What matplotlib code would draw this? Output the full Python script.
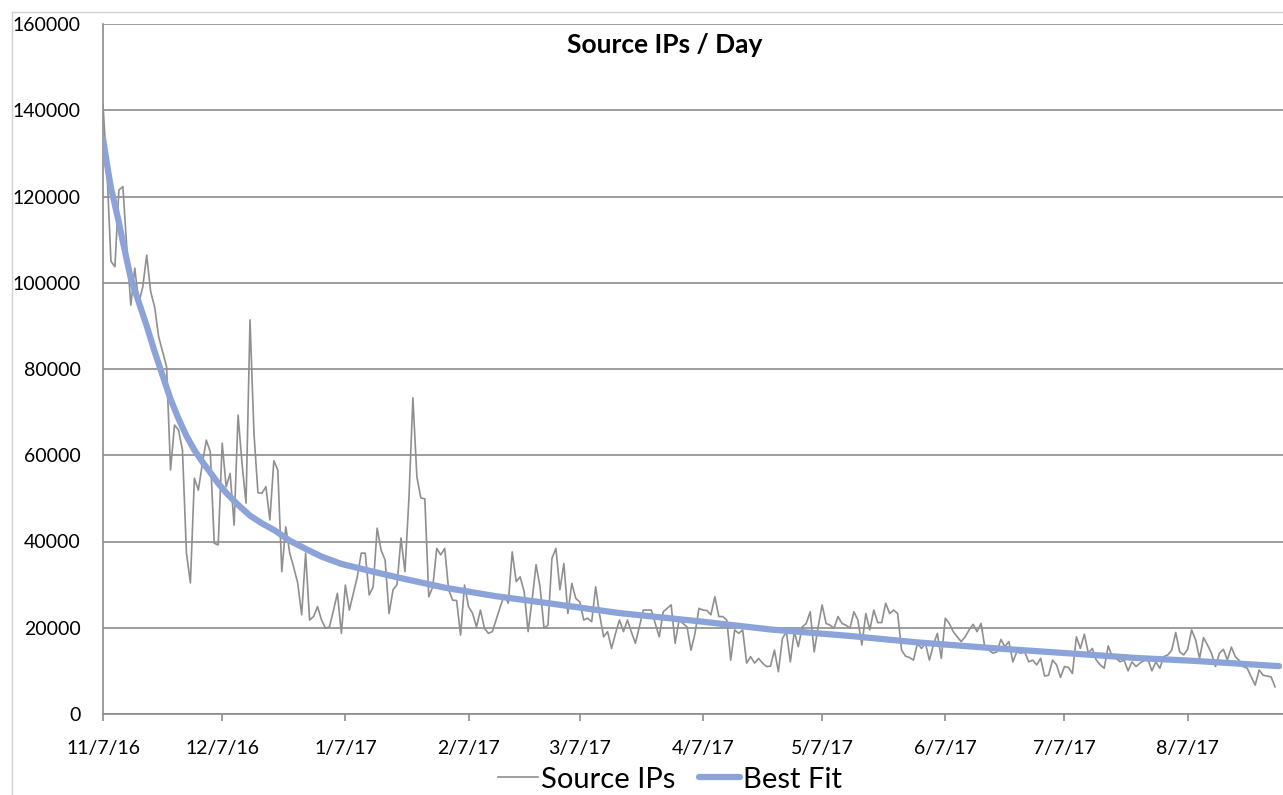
import pandas as pd
import matplotlib
matplotlib.use('Agg')
import matplotlib.pyplot as plt
from matplotlib.lines import Line2D

# daily source IP counts, starting 11/7/16
start_date = '2016-11-07'
source_ips = [
    141200, 126000, 105000, 103700, 121500, 122300, 108000, 94800, 103400, 95300,
    99000, 106400, 97900, 94400, 87500, 84000, 80500, 56600, 67000, 65900,
    61200, 37300, 30400, 54700, 51900, 58000, 63500, 60800, 39600, 39200,
    62800, 52700, 55800, 43800, 69300, 58000, 48900, 91400, 65000, 51300,
    51200, 52700, 45000, 58700, 56600, 33000, 43400, 37300, 34000, 30400,
    23000, 37300, 21800, 22600, 24900, 21800, 19900, 20200, 24000, 28000,
    18700, 29900, 24100, 28000, 31800, 37300, 37300, 27600, 29500, 43100,
    38000, 35700, 23300, 28800, 30000, 40800, 33000, 50000, 73300, 55000,
    50100, 49900, 27200, 29500, 38400, 36900, 38400, 28800, 26400, 26300,
    18300, 29900, 24900, 23400, 20200, 24100, 19900, 18700, 19100, 22000,
    24900, 27600, 25700, 37600, 30700, 31800, 28400, 19100, 26400, 34600,
    29500, 19900, 20600, 36100, 38400, 28800, 34900, 23300, 30300, 26800,
    26000, 21800, 22200, 21400, 29500, 23000, 17900, 19100, 15200, 18700,
    21800, 19100, 21800, 19000, 16400, 20200, 24100, 24100, 24100, 21000,
    17900, 23700, 24500, 25300, 16400, 21800, 21000, 20200, 14800, 18700,
    24500, 24100, 24000, 23000, 27200, 22600, 22600, 21800, 12500, 19500,
    18700, 19500, 11800, 13300, 11800, 12900, 11800, 11000, 11100, 14800,
    9800, 17500, 19100, 12100, 19100, 15600, 20200, 21000, 23700, 14400,
    20200, 25300, 21000, 20600, 19900, 22600, 21000, 20600, 19900, 23700,
    21800, 16000, 23300, 19500, 24100, 21200, 21200, 25700, 23300, 24100,
    23300, 14800, 13400, 13100, 12500, 16400, 15200, 16400, 12500, 16000,
    18700, 12900, 22200, 21000, 19100, 17900, 16800, 17900, 19500, 20800,
    19100, 21000, 15200, 14800, 14100, 14400, 17300, 15600, 16800, 12100,
    14400, 14100, 14400, 12100, 12500, 11400, 12900, 8800, 9000, 12500,
    11400, 8500, 11000, 10800, 9400, 17900, 15200, 18500, 14100, 15200,
    12500, 11400, 10600, 15800, 13300, 12900, 12100, 12500, 10000, 12100,
    11000, 11800, 12400, 12700, 10000, 12100, 10600, 13300, 13700, 14800,
    18900, 14400, 13700, 15000, 19500, 17200, 12900, 17700, 16000, 14100,
    11000, 14100, 15000, 12500, 15500, 13300, 12400, 11000, 10600, 8600,
    6700, 10200, 9000, 8800, 8600, 6300,
]

# best fit curve, sampled at day offsets from start
fit_days = [0, 1, 2, 3, 4, 5, 7, 9, 11, 13, 15, 17, 19, 21, 23, 25, 27, 29,
            31, 34, 37, 40, 43, 47, 51, 55, 60, 68, 75, 86, 99, 112, 130,
            150, 168, 188, 205, 225, 241, 260, 275, 296]
fit_values = [133500, 127500, 122000, 118000, 114000, 109500, 101000, 95500,
              90000, 84000, 78500, 73000, 68500, 64500, 61200, 58500, 56000,
              53500, 51300, 48500, 46000, 44200, 42700, 40200, 38300, 36500,
              34800, 33000, 31500, 29300, 27300, 25700, 23400, 21500, 19600,
              18100, 16600, 15200, 14200, 13000, 12300, 11100]

tick_labels = ['11/7/16', '12/7/16', '1/7/17', '2/7/17', '3/7/17', '4/7/17',
               '5/7/17', '6/7/17', '7/7/17', '8/7/17']

plt.rcParams['font.family'] = ['Lato', 'DejaVu Sans']

t0 = pd.Timestamp(start_date)
ip_dates = pd.date_range(t0, periods=len(source_ips), freq='D')
fit_dates = [t0 + pd.Timedelta(days=d) for d in fit_days]
tick_dates = pd.to_datetime(tick_labels, format='%m/%d/%y')

fig = plt.figure(figsize=(12.83, 7.95), dpi=100)
ax = fig.add_axes([103 / 1283, 1 - 714 / 795, 1 - 103 / 1283, (714 - 24) / 795])

grid_col = '#8c8c8c'
ax.plot(ip_dates, source_ips, color='#8f8f8f', lw=1.2, label='Source IPs', zorder=3)
ax.plot(fit_dates, fit_values, color='#8ba3d8', lw=4.5, label='Best Fit',
        solid_capstyle='round', solid_joinstyle='round', zorder=4)

ax.set_ylim(0, 160000)
ax.set_xlim(t0, t0 + pd.Timedelta(days=297))
ax.set_yticks(range(0, 160001, 20000))
ax.yaxis.grid(True, color=grid_col, lw=1.2)
ax.xaxis.grid(False)
ax.set_axisbelow(True)

ax.set_xticks(tick_dates)
ax.set_xticklabels(tick_labels)
ax.tick_params(axis='x', length=5, width=1.2, color=grid_col, pad=14, labelsize=14)
ax.tick_params(axis='y', length=0, pad=16, labelsize=14)

for side in ['top', 'right']:
    ax.spines[side].set_visible(False)
for side in ['left', 'bottom']:
    ax.spines[side].set_color(grid_col)
    ax.spines[side].set_linewidth(1.2)

fig.text(665 / 1283, 1 - 45 / 795, 'Source IPs / Day', fontsize=19,
         fontweight='bold', ha='center', va='center')

fig.legend(loc='lower center', bbox_to_anchor=(0.522, -0.03), ncol=2,
           frameon=False, fontsize=21, handlelength=1.4, handletextpad=0.1,
           columnspacing=0.8)

# faint chart-area border
fig.add_artist(Line2D([12 / 1283, 1], [1 - 12 / 795, 1 - 12 / 795],
                      color='#d0d0d0', lw=1, transform=fig.transFigure))
fig.add_artist(Line2D([12 / 1283, 12 / 1283], [1 - 12 / 795, 0],
                      color='#d0d0d0', lw=1, transform=fig.transFigure))

fig.savefig('out.png', dpi=100)
plt.close(fig)
